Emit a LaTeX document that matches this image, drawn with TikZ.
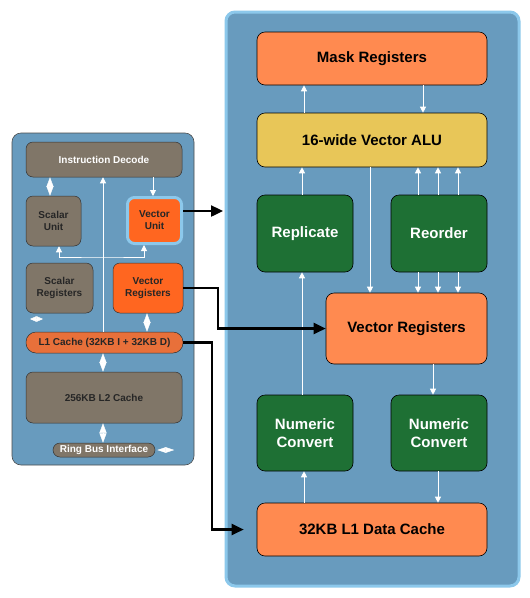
\documentclass[tikz,border=0pt]{standalone}
\usepackage{fontspec}
\setmainfont{Liberation Sans}
\usetikzlibrary{arrows.meta}

\definecolor{panelblue}{RGB}{104,155,190}
\definecolor{panelrim}{RGB}{140,200,235}
\definecolor{coral}{RGB}{255,138,80}
\definecolor{alugold}{RGB}{232,198,88}
\definecolor{unitgreen}{RGB}{30,112,52}
\definecolor{taupe}{RGB}{128,118,104}
\definecolor{hotorange}{RGB}{255,102,32}
\definecolor{cacheorange}{RGB}{232,112,58}

\tikzset{
  panel/.style={fill=panelblue, rounded corners=9pt},
  bigbox/.style={draw=black, line width=0.6pt, rounded corners=8pt, inner sep=2pt,
    align=center, font=\fontsize{15}{18}\selectfont\bfseries},
  smallbox/.style={draw=black!80, line width=0.5pt, rounded corners=7pt, inner sep=2pt,
    align=center, text=black!85, font=\fontsize{10}{12}\selectfont\bfseries},
  warrow/.style={draw=white, line width=0.9pt, -{Triangle[length=6pt,width=6pt]}},
  diam/.style={draw=white, line width=0.4pt,
    {Triangle[length=#1,width=7pt]}-{Triangle[length=#1,width=7pt]}},
  diam/.default=9.5pt,
  hdiam/.style={draw=white, line width=0.4pt,
    {Triangle[length=#1,width=5.5pt]}-{Triangle[length=#1,width=5.5pt]}},
  hdiam/.default=8.5pt,
  barrow/.style={draw=black, line width=2.4pt, -{Triangle[length=12pt,width=11pt]}},
}

\begin{document}
\begin{tikzpicture}[x=1pt,y=-1pt]
    % Bildrahmen
    \useasboundingbox[fill=white] (0,0) rectangle (530,598);

    % Linkes Feld: Kern
    \node[panel, draw=black!70, line width=0.6pt, minimum width=182pt, minimum height=332pt] (core) at (103,299) {};
    \node[smallbox, fill=taupe, text=white, minimum width=156pt, minimum height=35pt] (idec) at (104,159.5) {Instruction Decode};
    \node[smallbox, fill=taupe, minimum width=55pt, minimum height=50pt] (sunit) at (53.5,221) {Scalar\\Unit};
    \node[smallbox, fill=hotorange, draw=panelrim, line width=3pt, minimum width=54pt, minimum height=46pt] (vunit) at (154.5,220.5) {Vector\\Unit};
    \node[smallbox, fill=taupe, minimum width=67pt, minimum height=50pt] (sreg) at (59.5,288) {Scalar\\Registers};
    \node[smallbox, fill=hotorange, minimum width=70pt, minimum height=50pt] (vregL) at (148,288) {Vector\\Registers};
    \node[smallbox, fill=cacheorange, rounded corners=10pt, minimum width=157pt, minimum height=21pt] (l1) at (104.5,342.5) {L1 Cache (32KB I + 32KB D)};
    \node[smallbox, fill=taupe, minimum width=156pt, minimum height=51pt] (l2) at (104,397.5) {256KB L2 Cache};
    \node[smallbox, fill=taupe, text=white, rounded corners=7pt, inner sep=0pt, minimum width=102pt, minimum height=14pt] (ring) at (104,450) {Ring Bus Interface};

    % Rechtes Feld: Vektoreinheit
    \node[panel, draw=panelrim, line width=3pt, minimum width=293pt, minimum height=574pt] (vpu) at (372.5,299) {};
    \node[bigbox, fill=coral, minimum width=230pt, minimum height=53pt] (mask) at (372,58.5) {Mask Registers};
    \node[bigbox, fill=alugold, minimum width=230pt, minimum height=54pt] (alu) at (372,140) {16-wide Vector ALU};
    \node[bigbox, fill=unitgreen, text=white, minimum width=96pt, minimum height=77pt] (repl) at (305,233.5) {Replicate};
    \node[bigbox, fill=unitgreen, text=white, minimum width=96pt, minimum height=77pt] (reord) at (439,233.5) {Reorder};
    \node[bigbox, fill=coral, minimum width=161pt, minimum height=71pt] (vreg) at (406.5,328.5) {Vector Registers};
    \node[bigbox, fill=unitgreen, text=white, minimum width=96pt, minimum height=76pt] (nconvA) at (305,433) {Numeric\\Convert};
    \node[bigbox, fill=unitgreen, text=white, minimum width=96pt, minimum height=76pt] (nconvB) at (439,433) {Numeric\\Convert};
    \node[bigbox, fill=coral, minimum width=230pt, minimum height=53pt] (l1d) at (372,529.5) {32KB L1 Data Cache};

    % Weisse Pfeile links
    \draw[warrow] ([xshift=-1.5pt]l1.north) -- ([xshift=-1.5pt]l1.north |- idec.south);
    \coordinate (fork) at (103,257);
    \draw[warrow, {Triangle[length=6pt,width=6pt]}-{Triangle[length=6pt,width=6pt]}]
        ([xshift=5.5pt]sunit.south) |- (fork) -| ([xshift=-10.5pt]vunit.south);
    \draw[warrow] ([xshift=-1.5pt]vunit.north |- idec.south) -- ([xshift=-1.5pt]vunit.north);
    \draw[diam] ([xshift=-3.5pt]sunit.north) -- ([xshift=-3.5pt]sunit.north |- idec.south);
    \draw[diam] ([xshift=-1pt]vregL.south) -- ([xshift=-1pt]vregL.south |- l1.north);
    \draw[diam] ([xshift=-1.5pt]l1.south) -- ([xshift=-1.5pt]l1.south |- l2.north);
    \draw[diam] ([xshift=-1pt]l2.south) -- ([xshift=-1pt]ring.north);
    \coordinate (sideA) at (30,319);
    \coordinate (sideB) at (43,319);
    \draw[hdiam=6.5pt] (sideA) -- (sideB);
    \draw[hdiam] ([xshift=2pt]ring.east) -- ([xshift=19pt]ring.east);

    % Weisse Pfeile rechts
    \draw[warrow] ([xshift=-68pt]alu.north) -- ([xshift=-68pt]mask.south);
    \draw[warrow] ([xshift=51pt]mask.south) -- ([xshift=51pt]alu.north);
    \draw[warrow] ([xshift=-3pt]repl.north) -- ([xshift=-3pt]repl.north |- alu.south);
    \draw[warrow] ([xshift=-2pt]alu.south) -- ([xshift=-2pt]alu.south |- vreg.north);
    \foreach \dx in {-21,-1,19} {
        \draw[warrow] ([xshift=\dx pt]reord.north) -- ([xshift=\dx pt]reord.north |- alu.south);
        \draw[warrow] ([xshift=\dx pt]reord.south) -- ([xshift=\dx pt]reord.south |- vreg.north);
    }
    \draw[warrow] ([xshift=-3pt]nconvA.north) -- ([xshift=-3pt]repl.south);
    \draw[warrow] ([xshift=-1pt]nconvA.south |- l1d.north) -- ([xshift=-1pt]nconvA.south);
    \draw[warrow] ([xshift=-6pt]nconvB.north |- vreg.south) -- ([xshift=-6pt]nconvB.north);
    \draw[warrow] ([xshift=-1pt]nconvB.south) -- ([xshift=-1pt]nconvB.south |- l1d.north);

    % Schwarze Verbindungen zwischen den Feldern
    \coordinate (vuout) at (223,211);
    \draw[barrow] (vunit.east |- vuout) -- (vuout);
    \coordinate (bendA) at (218,288);
    \draw[barrow] (vregL.east) -- (bendA) |- (vreg.west);
    \coordinate (bendB) at (212,343);
    \draw[barrow] (l1.east) -- (bendB |- l1.east) |- ([xshift=-13pt]l1d.west);
\end{tikzpicture}
\end{document}
